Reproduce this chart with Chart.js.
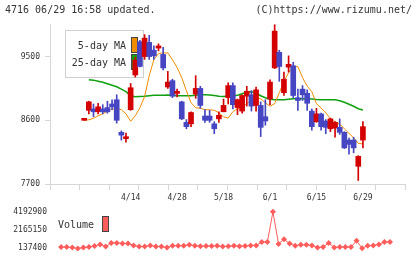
<!DOCTYPE html>
<html>
<head>
<meta charset="utf-8">
<script src="https://cdn.jsdelivr.net/npm/chart.js@4.4.1/dist/chart.umd.min.js"></script>
<style>
  html, body { margin: 0; padding: 0; background: #fff; }
  #wrap { position: relative; width: 420px; height: 259px; overflow: hidden; font-family: "DejaVu Sans Mono", monospace; color: #333; }
  #priceBox { position: absolute; left: 0; top: 0; width: 420px; height: 204px; }
  #volBox { position: absolute; left: 0; top: 200px; width: 420px; height: 59px; }
  .hdr { position: absolute; top: 4px; font-size: 10px; line-height: 12px; z-index: 2; white-space: pre; }
</style>
</head>
<body>
<div id="wrap">
  <div class="hdr" style="left:5px">4716 06/29 16:58 updated.</div>
  <div class="hdr" style="right:8px">(C)https://www.rizumu.net/</div>
  <div id="priceBox"><canvas id="price"></canvas></div>
  <div id="volBox"><canvas id="vol"></canvas></div>
</div>
<script>
// tick labels
const dates = ["4/14", "4/28", "5/18", "6/1", "6/15", "6/29"];
const dateIdx = [10, 20, 30, 40, 50, 60];
const priceTicks = [7700, 8600, 9500];
const volTicks = [137400, 2165150, 4192900];

// daily candles
const opens  = [8600, 8740, 8760, 8720, 8760, 8780, 8830, 8890, 8430, 8340,
                8750, 9240, 9710, 9500, 9700, 9590, 9620, 9530, 9070, 9160,
                8980, 8860, 8570, 8550, 8970, 9050, 8660, 8660, 8550, 8620,
                8720, 8920, 9090, 8780, 8730, 8940, 8960, 8810, 8810, 8650,
                8900, 9340, 9560, 8990, 9350, 9370, 8920, 9040, 8980, 8730,
                8580, 8690, 8590, 8480, 8490, 8500, 8430, 8320, 8320, 7950, 8320];
const highs  = [8610, 8870, 8830, 8840, 8820, 8870, 8890, 8960, 8450, 8420,
                9120, 9490, 9730, 9810, 9800, 9650, 9680, 9630, 9290, 9180,
                9040, 8870, 8610, 8720, 9230, 9080, 8750, 8740, 8580, 8720,
                8900, 9130, 9130, 8900, 8960, 9080, 9020, 9070, 8860, 8890,
                9170, 9950, 9590, 9280, 9510, 9420, 9040, 9090, 9030, 8760,
                8770, 8700, 8610, 8630, 8580, 8620, 8440, 8350, 8360, 8100, 8580];
const lows   = [8600, 8690, 8650, 8690, 8690, 8700, 8750, 8560, 8320, 8290,
                8740, 9210, 9355, 9460, 9460, 9460, 9580, 9310, 9050, 8920,
                8930, 8610, 8480, 8510, 8910, 8770, 8570, 8570, 8410, 8570,
                8720, 8830, 8760, 8680, 8700, 8800, 8730, 8730, 8370, 8530,
                8820, 9330, 9150, 8950, 9280, 8920, 8740, 8880, 8740, 8460,
                8570, 8460, 8410, 8440, 8360, 8400, 8200, 8120, 8140, 7750, 8210];
const closes = [8610, 8860, 8720, 8790, 8720, 8720, 8790, 8600, 8390, 8360,
                9060, 9450, 9360, 9760, 9500, 9510, 9650, 9340, 9140, 8940,
                9000, 8620, 8510, 8710, 9050, 8810, 8600, 8600, 8480, 8670,
                8810, 9090, 8820, 8890, 8950, 9010, 8800, 9030, 8500, 8590,
                9140, 9860, 9360, 9180, 9390, 8950, 8880, 8960, 8840, 8510,
                8690, 8510, 8500, 8620, 8570, 8430, 8210, 8260, 8210, 8090, 8510];

// moving averages
const ma5  = [8600, 8607, 8628, 8664, 8692, 8727, 8756, 8770, 8749, 8692,
              8586, 8664, 8777, 8933, 9230, 9457, 9542, 9552, 9552, 9457,
              9344, 9202, 9018, 8848, 8777, 8770, 8749, 8749, 8741, 8706,
              8649, 8631, 8720, 8763, 8784, 8834, 8890, 8912, 8904, 8848,
              8798, 8834, 8989, 9145, 9273, 9358, 9358, 9202, 9082, 9004,
              8834, 8773, 8706, 8621, 8579, 8550, 8479, 8416, 8352, 8274, 8267];
const ma25 = [null, 9174, 9167, 9152, 9138, 9117, 9096, 9074, 9039, 9004,
              8947, 8933, 8936, 8940, 8947, 8954, 8954, 8954, 8957, 8954,
              8947, 8947, 8947, 8947, 8954, 8961, 8961, 8957, 8951, 8940,
              8937, 8943, 8947, 8954, 8975, 8997, 9004, 8982, 8947, 8919,
              8897, 8890, 8890, 8890, 8897, 8904, 8904, 8904, 8904, 8900,
              8893, 8890, 8890, 8890, 8890, 8876, 8855, 8827, 8798, 8763, 8744];

// volume
const volumes = [null, 270000, 270000, 205000, 105000, 205000, 270000, 376000, 546000, 308000, 717000,
                 717000, 649000, 649000, 444000, 308000, 308000, 444000, 308000, 308000, 205000,
                 410000, 410000, 410000, 512000, 410000, 342000, 376000, 376000, 410000, 308000,
                 342000, 410000, 342000, 376000, 444000, 444000, 819000, 819000, 4192900, 614000,
                 1126000, 649000, 410000, 512000, 512000, 444000, 205000, 270000, 717000, 205000,
                 270000, 270000, 270000, 955000, 137400, 410000, 444000, 546000, 819000, 819000];

const RED = "#d40000";
const BLUE = "#4646c3";
const ORANGE = "#f08c00";
const GREEN = "#10a010";
const VOL = "#ff5c5c";
const AXIS = "#d6d6d6";
const TXT = "#333";
const FONT = "DejaVu Sans Mono";

const idx = opens.map((_, i) => i);
const candleColor = idx.map(i => closes[i] >= opens[i] ? RED : BLUE);
const xMin = -0.99, xMax = 62.69;
const plain = v => String(v);

const legendBox = {
  id: "legendBox",
  beforeDatasetsDraw(chart) {
    const { ctx, chartArea: a } = chart;
    const x0 = Math.round(a.left + 15), y0 = Math.round(a.top + 5.5);
    ctx.save();
    ctx.fillStyle = "#fff";
    ctx.fillRect(x0, y0, 78, 47);
    ctx.strokeStyle = "#cfcfcf";
    ctx.lineWidth = 1;
    ctx.strokeRect(x0 + 0.5, y0 + 0.5, 78, 47);
    ctx.font = "10px '" + FONT + "'";
    ctx.textAlign = "right";
    ctx.textBaseline = "middle";
    chart.data.datasets.filter(d => d.type === "line").forEach((d, k) => {
      const cy = y0 + 16 + k * 17;
      ctx.fillStyle = TXT;
      ctx.fillText(d.label, x0 + 61, cy);
      ctx.fillStyle = d.borderColor;
      ctx.fillRect(x0 + 66, cy - 9, 6, 15);
      ctx.strokeStyle = "#444";
      ctx.strokeRect(x0 + 66.5, cy - 8.5, 6, 15);
    });
    ctx.restore();
  }
};

new Chart(document.getElementById("price"), {
  type: "bar",
  data: {
    datasets: [
      { type: "line", label: "5-day MA", data: idx.map(i => ({ x: i, y: ma5[i] })),
        borderColor: ORANGE, borderWidth: 1, pointRadius: 0, order: 3 },
      { type: "line", label: "25-day MA", data: idx.map(i => ({ x: i, y: ma25[i] })),
        borderColor: GREEN, borderWidth: 1.5, pointRadius: 0, order: 3 },
      { type: "bar", label: "wick", data: idx.map(i => ({ x: i, y: [lows[i], highs[i]] })),
        backgroundColor: candleColor, barThickness: 1, grouped: false, order: 2 },
      { type: "bar", label: "body", data: idx.map(i => ({ x: i, y: [opens[i], closes[i]] })),
        backgroundColor: candleColor, barThickness: 5, minBarLength: 2, grouped: false, order: 1 }
    ]
  },
  options: {
    responsive: true,
    maintainAspectRatio: false,
    animation: false,
    layout: { padding: { left: 0, right: 15, top: 24, bottom: 0 } },
    plugins: { legend: { display: false }, tooltip: { enabled: false } },
    scales: {
      x: {
        type: "linear", min: xMin, max: xMax, weight: 10,
        grid: { display: false, drawTicks: false },
        border: { display: false },
        afterBuildTicks: s => { s.ticks = dateIdx.map(v => ({ value: v })); },
        afterFit: s => { s.height = 14; },
        ticks: { autoSkip: false, maxRotation: 0, padding: 3, color: TXT,
                 font: { family: FONT, size: 8 }, callback: (v, i) => dates[i] }
      },
      x2: {
        type: "linear", position: "bottom", min: 0, max: 11, weight: 0,
        afterBuildTicks: s => { s.ticks = Array.from({ length: 12 }, (_, i) => ({ value: i })); },
        afterFit: s => { s.height = 6; },
        ticks: { display: false },
        grid: { drawOnChartArea: false, color: AXIS, tickLength: 6 },
        border: { color: AXIS }
      },
      y: {
        min: 7700, max: 9960,
        afterBuildTicks: s => { s.ticks = priceTicks.map(v => ({ value: v })); },
        afterFit: s => { s.width = 50; },
        grid: { drawOnChartArea: false, color: AXIS, tickLength: 5 },
        border: { color: AXIS },
        ticks: { padding: 5, color: TXT, font: { family: FONT, size: 8 }, callback: plain }
      }
    }
  },
  plugins: [legendBox]
});

const volLegend = {
  id: "volLegend",
  afterDatasetsDraw(chart) {
    const { ctx, chartArea: a } = chart;
    const x0 = Math.round(a.left), y0 = Math.round(a.top);
    ctx.save();
    ctx.font = "10px '" + FONT + "'";
    ctx.textAlign = "left";
    ctx.textBaseline = "middle";
    ctx.fillStyle = TXT;
    ctx.fillText(chart.data.datasets[0].label, x0 + 8, y0 + 17);
    ctx.fillStyle = VOL;
    ctx.fillRect(x0 + 52, y0 + 8, 6, 15);
    ctx.strokeStyle = "#444";
    ctx.lineWidth = 1;
    ctx.strokeRect(x0 + 52.5, y0 + 8.5, 6, 15);
    ctx.restore();
  }
};

new Chart(document.getElementById("vol"), {
  type: "line",
  data: {
    datasets: [{
      label: "Volume",
      data: idx.filter(i => volumes[i] !== null).map(i => ({ x: i, y: volumes[i] })),
      borderColor: VOL, backgroundColor: VOL, borderWidth: 1,
      pointStyle: "rectRot", pointRadius: 3, pointBorderWidth: 0
    }]
  },
  options: {
    responsive: true,
    maintainAspectRatio: false,
    animation: false,
    layout: { padding: { left: 0, right: 15, top: 5, bottom: 7 } },
    plugins: { legend: { display: false }, tooltip: { enabled: false } },
    scales: {
      x: { type: "linear", display: false, min: xMin, max: xMax },
      y: {
        min: -202300, max: 4635500,
        afterBuildTicks: s => { s.ticks = volTicks.map(v => ({ value: v })); },
        afterFit: s => { s.width = 50; },
        grid: { display: false, drawTicks: false },
        border: { display: false },
        ticks: { padding: 3, color: TXT, font: { family: FONT, size: 8 }, callback: plain }
      }
    }
  },
  plugins: [volLegend]
});
</script>
</body>
</html>
